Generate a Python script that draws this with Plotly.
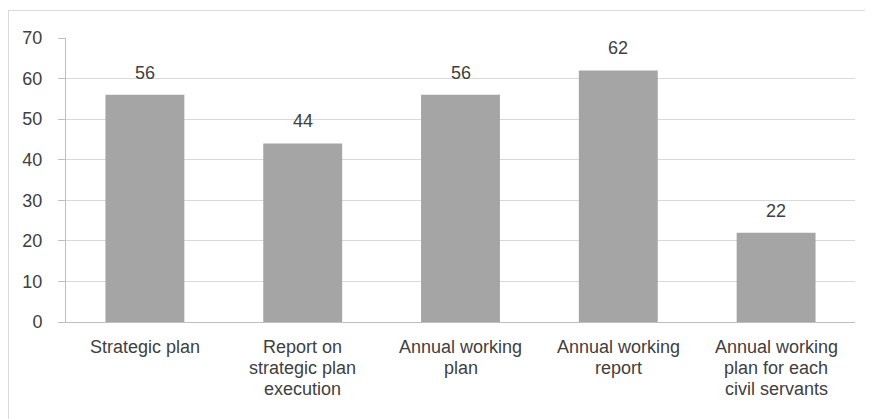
import plotly.graph_objects as go

categories = ["Strategic plan", "Report on<br>strategic plan<br>execution", "Annual working<br>plan",
              "Annual working<br>report", "Annual working<br>plan for each<br>civil servants"]
values = [56, 44, 56, 62, 22]
y_ticks = [0, 10, 20, 30, 40, 50, 60, 70]

# page body has an 8px margin, so the figure is drawn 8px in from the window edge
OFF = 8
W, H = 873 - OFF, 419 - OFF
L, R, T, B = 66 - OFF, 873 - 855, 38 - OFF, 419 - 322
pw, ph = W - L - R, H - T - B
FONT = "Liberation Sans, Arial"
TXT = "#404040"


def px_x(p):
    return (p - OFF - L) / pw


def px_y(p):
    return (H - B - (p - OFF)) / ph


fig = go.Figure(go.Bar(
    x=categories, y=values, marker_color="#A5A5A5", marker_line_width=0,
))

annotations = []
for c, v in zip(categories, values):
    annotations.append(dict(x=c, y=v, xref="x", yref="y", text=str(v), showarrow=False,
                            yanchor="bottom", yshift=10,
                            font=dict(family=FONT, size=18, color=TXT)))
    for i, line in enumerate(c.split("<br>")):
        annotations.append(dict(x=c, y=0, xref="x", yref="y", text=line, showarrow=False,
                                yanchor="middle", yshift=-(25 + 21 * i),
                                font=dict(family=FONT, size=18, color=TXT)))

fig.update_layout(
    width=W, height=H, margin=dict(l=L, r=R, t=T, b=B, autoexpand=False),
    paper_bgcolor="white", plot_bgcolor="white", bargap=0.5, showlegend=False,
    font=dict(family=FONT, size=18, color=TXT),
    xaxis=dict(showgrid=False, showline=True, linecolor="#BFBFBF", linewidth=1,
               ticks="", showticklabels=False, automargin=False),
    yaxis=dict(range=[0, 70], tickvals=y_ticks, showgrid=True, gridcolor="#D9D9D9",
               showline=True, linecolor="#BFBFBF", ticks="outside", ticklen=7,
               tickcolor="#BFBFBF", zeroline=False, automargin=False,
               tickfont=dict(family=FONT, size=18, color=TXT), ticklabelstandoff=12),
    annotations=annotations,
    shapes=[
        dict(type="line", xref="paper", yref="paper", x0=px_x(8.5), x1=px_x(890),
             y0=px_y(10.5), y1=px_y(10.5), line=dict(color="#D9D9D9", width=1), layer="below"),
        dict(type="line", xref="paper", yref="paper", x0=px_x(8.5), x1=px_x(8.5),
             y0=px_y(10), y1=px_y(440), line=dict(color="#D9D9D9", width=1), layer="below"),
    ],
)

fig.write_html("out.html")
